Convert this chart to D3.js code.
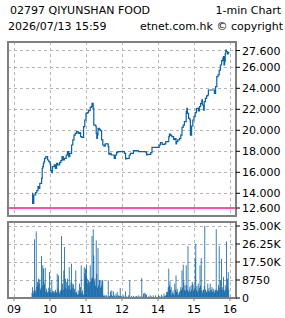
<!DOCTYPE html>
<html><head><meta charset="utf-8">
<script src="https://cdn.jsdelivr.net/npm/d3@7"></script>
<style>html,body{margin:0;padding:0;background:#fff;}svg{display:block;}text{font-family:"DejaVu Sans",sans-serif;font-size:11px;fill:#000;}</style>
</head><body><svg id="c" width="285" height="318"></svg>
<script>
const titleLeft = "02797 QIYUNSHAN FOOD";
const titleRight = "1-min Chart";
const subLeft = "2026/07/13 15:59";
const subRight = "etnet.com.hk \u00a9 copyright";

const hourTicks = ["09:00","10:00","11:00","13:00","14:00","15:00","16:00"];
const hourLabels = ["09","10","11","12","14","15","16"];
const priceTicks = [14,16,18,20,22,24,26,27.6];
const prevClose = 12.6;
const volTicks = [0,8750,17500,26250,35000];
const volTickLabels = ["0","8750","17.50K","26.25K","35.00K"];

const priceTimes = ["09:30","09:31","09:33","09:36","09:38","09:40","09:42","09:43","09:46","09:47","09:48","09:49","09:50","09:51","09:53","09:56","09:58","10:00","10:01","10:03","10:04","10:07","10:09","10:11","10:13","10:16","10:18","10:20","10:22","10:24","10:27","10:29","10:31","10:33","10:36","10:38","10:40","10:42","10:44","10:47","10:49","10:51","10:53","10:56","10:58","11:00","11:02","11:04","11:07","11:09","11:10","11:12","11:13","11:16","11:17","11:18","11:19","11:20","11:22","11:24","11:26","11:28","11:30","11:32","11:34","11:37","11:38","11:40","11:42","11:44","11:47","11:49","11:51","11:53","11:59","13:02","13:04","13:06","13:08","13:10","13:12","13:14","13:17","13:19","13:22","13:27","13:31","13:36","13:40","13:41","13:43","13:46","13:48","13:50","13:53","13:58","14:01","14:02","14:04","14:07","14:09","14:11","14:13","14:16","14:18","14:19","14:21","14:23","14:26","14:28","14:30","14:31","14:33","14:36","14:38","14:40","14:42","14:44","14:47","14:48","14:49","14:51","14:53","14:54","14:56","14:58","15:00","15:02","15:04","15:07","15:09","15:11","15:13","15:14","15:16","15:17","15:19","15:21","15:23","15:24","15:27","15:32","15:34","15:36","15:38","15:40","15:42","15:44","15:46","15:48","15:49","15:50","15:51","15:52","15:53","15:54","15:56","15:57","15:59"];
const prices = [14.00,13.04,13.84,14.06,14.25,14.63,14.47,14.95,15.43,16.38,16.54,16.85,17.01,17.33,17.49,17.17,17.01,16.79,16.16,15.97,16.54,16.70,16.38,16.85,16.70,16.92,17.11,17.49,17.17,17.33,17.65,17.97,17.49,17.81,18.60,19.08,19.55,19.71,19.87,19.71,19.77,19.39,19.33,20.35,20.98,21.62,21.68,21.87,22.19,22.25,22.57,22.09,20.50,20.41,19.71,19.23,19.55,20.19,20.09,19.97,19.08,18.60,18.50,18.70,18.70,18.44,17.74,17.81,17.65,17.65,17.33,17.65,17.87,17.97,17.97,17.97,17.81,17.27,17.33,17.33,17.65,17.81,17.81,18.06,18.06,17.97,17.97,17.97,17.87,17.65,17.71,17.71,17.87,18.38,18.38,18.38,18.38,18.60,18.82,18.66,18.66,18.70,18.92,18.92,19.39,19.65,19.52,19.39,19.14,19.20,18.70,18.92,19.08,19.23,19.55,20.28,20.50,20.82,21.77,22.09,21.62,21.14,20.98,19.55,20.41,20.98,21.30,21.68,22.09,21.84,22.25,22.57,22.89,22.41,21.93,22.73,23.04,23.27,23.36,23.84,23.84,23.84,23.52,24.16,25.11,25.27,25.74,26.22,26.63,26.85,27.01,26.22,26.54,27.27,27.65,27.49,27.27,27.39,27.39];

// volume per minute (thousands), morning from 09:30, afternoon from 13:00
const volMorning = [2.5,5.3,2.0,3.5,28.5,4.0,3.0,32.4,5.5,7.8,6.0,9.4,7.0,9.0,4.0,5.0,20.4,6.0,15.9,14.3,8.0,6.5,14.7,3.0,4.5,3.2,2.5,3.2,5.0,12.6,4.0,3.0,2.5,8.6,3.5,2.0,3.2,2.5,3.2,4.0,3.0,2.5,11.8,4.5,11.0,3.0,2.0,3.2,4.0,30.1,3.5,7.0,4.0,13.4,24.8,5.0,9.4,4.5,7.8,9.4,4.0,6.0,15.0,6.2,4.0,7.8,16.7,5.0,7.0,6.5,3.0,4.5,2.5,13.4,3.0,2.1,1.5,3.7,2.0,7.0,3.0,5.3,15.9,2.5,3.7,2.0,1.5,15.0,12.0,14.3,10.0,15.9,9.4,7.0,8.6,6.0,7.8,15.9,8.0,9.4,30.1,10.0,33.4,20.7,8.0,9.4,6.0,28.0,11.8,5.0,24.3,6.0,8.6,8.6,5.0,8.6,6.0,8.6,8.6,1.0,1.6,0.8,1.3,0.5,1.3,0.8,0.5,8.6,0.8,1.0,0.5,3.2,1.5,3.7,1.0,0.5,3.2,1.0,1.3,0.5,2.1,1.0,2.9,0.8,1.3,0.5,1.0,4.9,1.0,0.8];
const volAfternoon = [0.5,0,0.8,1.3,0,0.5,3.2,0,0.8,0,0.5,1.3,0,8.6,0,0.5,1.0,0,0.5,1.0,0,0.5,0.8,0,1.0,0,0.5,1.3,0,0.5,1.0,0,0.5,9.7,0,0.8,2.1,2.6,0.5,2.1,0.8,1.6,0,0.5,0.8,0,0.5,1.3,0,0.8,0,0.5,1.3,0,0.5,0,1.3,0,0.5,0,0.5,1.3,0.5,1.0,0,0.5,1.6,0.5,0.8,0.5,2.1,0.8,1.3,1.0,2.9,1.5,3.0,5.3,14.3,6.0,8.1,4.0,5.3,1.3,2.5,3.7,2.0,1.3,7.0,4.0,11.0,3.0,4.5,2.9,1.5,2.1,3.0,3.7,5.3,4.0,13.4,5.0,16.2,8.1,4.0,6.2,3.5,15.9,6.2,4.0,25.3,3.0,3.7,5.3,3.0,6.2,4.0,7.8,7.0,3.5,6.2,4.0,19.1,26.4,4.0,5.8,3.0,7.0,3.7,5.0,15.9,6.0,19.4,3.7,2.5,3.7,4.0,5.8,35.0,4.0,2.1,3.0,3.7,7.0,3.5,4.9,3.0,7.0,3.7,4.0,5.3,3.0,4.5,3.2,2.5,4.0,3.7,33.4,4.0,3.7,3.0,6.2,25.3,5.0,8.6,4.0,19.1,5.3,4.0,10.2,4.0,3.2,6.2,4.0,27.5,5.0,9.4,12.6,4.0,0];

function minuteIndex(t){const [h,m]=t.split(":").map(Number);const a=h*60+m;return a>=780? a-780+180 : a-540;}

const svg = d3.select("#c");
const L=8,R=236,PT=42,PB=216,VT=222,VB=298;
const x = d3.scaleLinear().domain([0,360]).range([14,230]);
const y = d3.scaleLinear().domain([14,26]).range([193.3,67.3]);
const yv = d3.scaleLinear().domain([0,35000]).range([298,226]);
const blue="#0b62a6", grid="#b4b4b4", frame="#808080";

// titles
svg.append("text").attr("x",10).attr("y",14).text(titleLeft);
svg.append("text").attr("x",281).attr("y",14).attr("text-anchor","end").text(titleRight);
svg.append("text").attr("x",8).attr("y",30).text(subLeft);
svg.append("text").attr("x",283).attr("y",30).attr("text-anchor","end").text(subRight);

const hx = hourTicks.map(minuteIndex);
function panelGrid(top,bottom,yvals,ys){
  const g=svg.append("g").attr("stroke",grid).attr("stroke-dasharray","3,3").attr("stroke-width",1).attr("shape-rendering","crispEdges");
  hx.forEach(m=>g.append("line").attr("x1",Math.round(x(m))+0.5).attr("x2",Math.round(x(m))+0.5).attr("y1",top).attr("y2",bottom));
  yvals.forEach(v=>g.append("line").attr("x1",L).attr("x2",R).attr("y1",Math.round(ys(v))+0.5).attr("y2",Math.round(ys(v))+0.5));
}
panelGrid(PT,PB,priceTicks,y);
panelGrid(VT,VB,volTicks.filter(v=>v>0),yv);

// prev close
svg.append("line").attr("x1",L).attr("x2",R).attr("y1",y(prevClose)).attr("y2",y(prevClose)).attr("stroke","#ff1493").attr("stroke-width",1.5);

// price line
const pts = priceTimes.map((t,i)=>[minuteIndex(t),prices[i]]);
svg.append("path").datum(pts).attr("fill","none").attr("stroke",blue).attr("stroke-width",1.2)
  .attr("d",d3.line().x(d=>x(d[0])).y(d=>y(d[1])).curve(d3.curveStepAfter));

// volume
const vols=[];
volMorning.forEach((v,i)=>vols.push([30+i,v*1000]));
volAfternoon.forEach((v,j)=>vols.push([180+j,v*1000]));
svg.append("g").selectAll("rect").data(vols.filter(d=>d[1]>0)).join("rect")
  .attr("x",d=>x(d[0])-0.4).attr("width",0.8).attr("y",d=>yv(d[1])).attr("height",d=>yv(0)-yv(d[1])).attr("fill",blue);

// frames
[[PT,PB],[VT,VB]].forEach(([t,b])=>svg.append("rect").attr("x",L).attr("y",t).attr("width",R-L).attr("height",b-t).attr("fill","none").attr("stroke",frame).attr("stroke-width",2));

// right axes
const yAxisTicks=[prevClose].concat(priceTicks);
yAxisTicks.forEach(v=>{
  const yy=y(v);
  svg.append("line").attr("x1",R).attr("x2",R+4).attr("y1",yy).attr("y2",yy).attr("stroke","#000");
  svg.append("text").attr("x",R+6).attr("y",yy+4).text(d3.format(".3f")(v));
});
volTicks.forEach((v,i)=>{
  const yy=yv(v);
  svg.append("line").attr("x1",R).attr("x2",R+4).attr("y1",yy).attr("y2",yy).attr("stroke","#000");
  svg.append("text").attr("x",R+6).attr("y",yy+4).text(volTickLabels[i]);
});
// x axis
hx.forEach((m,i)=>{
  const xx=x(m);
  svg.append("line").attr("x1",xx).attr("x2",xx).attr("y1",VB).attr("y2",VB+3).attr("stroke",frame);
  svg.append("text").attr("x",xx).attr("y",313).attr("text-anchor","middle").text(hourLabels[i]);
});
</script></body></html>
